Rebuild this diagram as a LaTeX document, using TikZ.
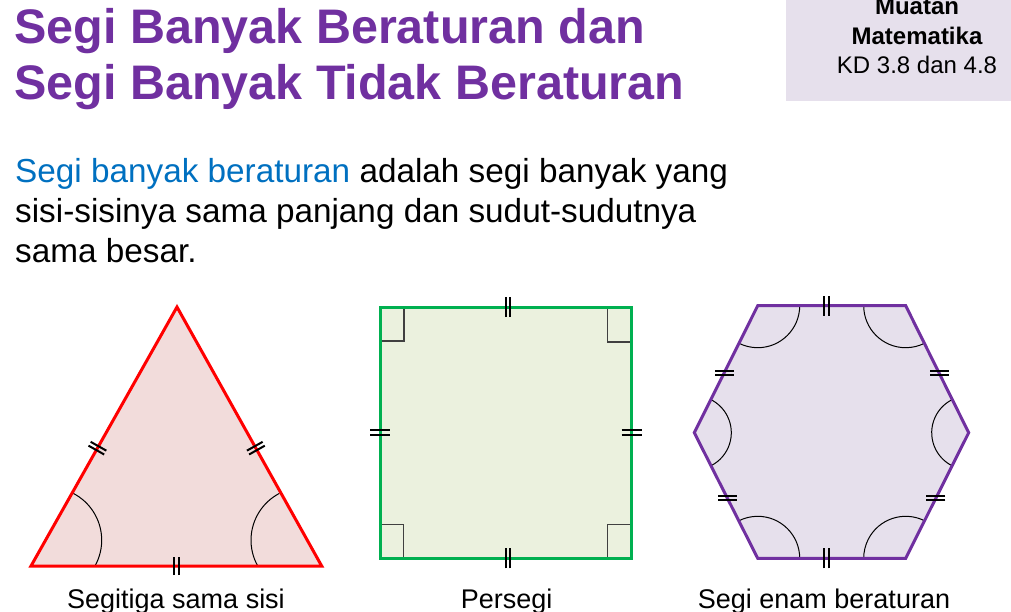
\documentclass[tikz,border=0pt]{standalone}
\usepackage{fontspec}
\setmainfont{Liberation Sans}
\usetikzlibrary{calc}
\definecolor{purpleT}{HTML}{7030A0}
\definecolor{blueT}{HTML}{0070C0}
\definecolor{redS}{HTML}{FF0000}
\definecolor{greenS}{HTML}{00B050}
\definecolor{triFill}{HTML}{F2DCDB}
\definecolor{sqFill}{HTML}{EBF1DE}
\definecolor{hexFill}{HTML}{E6E0EC}
\definecolor{markGray}{HTML}{404040}
\newcommand{\twobars}[1]{\rule{2pt}{#1pt}\kern2.4pt\rule{2pt}{#1pt}}
\tikzset{
  titletext/.style={anchor=base west, inner sep=0pt, text=purpleT, font=\fontsize{48.5}{50}\selectfont\bfseries},
  bodytext/.style={anchor=base west, inner sep=0pt, font=\fontsize{33.3}{36}\selectfont},
  boxtext/.style={anchor=base, inner sep=0pt, font=\fontsize{24}{26}\selectfont},
  captext/.style={anchor=base, inner sep=0pt, font=\fontsize{27}{29}\selectfont},
  outline/.style={line width=3pt, line join=miter},
  anglearc/.style={line width=1pt, black},
  rmark/.style={line width=1.2pt, markGray},
  barmark/.style={inner sep=0pt, outer sep=0pt, black},
}
\begin{document}
\begin{tikzpicture}[x=1pt, y=-1pt]
\useasboundingbox (0,0) rectangle (1011,612);
% top-right box
\fill[hexFill] (786,0) rectangle (1011,101);
\node[boxtext, font=\fontsize{24}{26}\selectfont\bfseries] (muatan) at (917,15) {Muatan};
\node[boxtext, font=\fontsize{24}{26}\selectfont\bfseries] (mat) at (917,45) {Matematika};
\node[boxtext] (kd) at (917,73.5) {KD 3.8 dan 4.8};
% title
\node[titletext] (title1) at (14,43.5) {Segi Banyak Beraturan dan};
\node[titletext] (title2) at (14,100) {Segi Banyak Tidak Beraturan};
% body
\node[bodytext] (body1) at (15,182.5) {{\color{blueT}Segi banyak beraturan} adalah segi banyak yang};
\node[bodytext] (body2) at (15,222.5) {sisi-sisinya sama panjang dan sudut-sudutnya};
\node[bodytext] (body3) at (15,262.5) {sama besar.};

% ---------- triangle ----------
\coordinate (t1) at (31,566);
\coordinate (t2) at (177,307);
\coordinate (t3) at (321.7,566);
\coordinate (ca) at (48.9,540.2);
\coordinate (cb) at (303.8,540.2);
\fill[triFill] (t1) -- (t2) -- (t3) -- cycle;
\draw[anglearc] ([shift={(62.5:52.8pt)}]ca) arc[start angle=62.5, end angle=-29.2, radius=52.8pt];
\draw[anglearc] ([shift={(117.5:52.8pt)}]cb) arc[start angle=117.5, end angle=209.2, radius=52.8pt];
\draw[outline, redS] (t1) -- (t2) -- (t3) -- cycle;
\path (t1) -- (t2) node[barmark, pos=0.455, sloped] (tk1) {\twobars{18}};
\path (t3) -- (t2) node[barmark, pos=0.455, sloped] (tk2) {\twobars{18}};
\path (t1) -- (t3) node[barmark, midway, sloped] (tk3) {\twobars{18}};
\node[captext] (cap1) at (176,608) {Segitiga sama sisi};

% ---------- square ----------
\coordinate (s1) at (380,307);
\coordinate (s2) at (631.7,307);
\coordinate (s3) at (631.7,558.3);
\coordinate (s4) at (380,558.3);
\fill[sqFill] (s1) -- (s2) -- (s3) -- (s4) -- cycle;
\draw[rmark] (s1) ++(0,34) -- ++(24,0) -- ++(0,-34);
\draw[rmark] (s2) ++(-24,0) -- ++(0,35) -- ++(24,0);
\draw[rmark] (s4) ++(0,-34) -- ++(23.5,0) -- ++(0,34);
\draw[rmark] (s3) ++(-24,0) -- ++(0,-34) -- ++(24,0);
\draw[outline, greenS] (s1) -- (s2) -- (s3) -- (s4) -- cycle;
\path (s1) -- (s2) node[barmark, pos=0.508, sloped] (sk1) {\twobars{20}};
\path (s4) -- (s3) node[barmark, pos=0.508, sloped] (sk2) {\twobars{20}};
\path (s1) -- (s4) node[barmark, midway, sloped] (sk3) {\twobars{20}};
\path (s2) -- (s3) node[barmark, midway, sloped] (sk4) {\twobars{20}};
\node[captext] (cap2) at (506.7,608) {Persegi};

% ---------- hexagon ----------
\coordinate (hTL) at (757.7,305.7);
\coordinate (hTR) at (905.7,305.7);
\coordinate (hR) at (968.7,432.7);
\coordinate (hBR) at (905.7,558.3);
\coordinate (hBL) at (757.7,558.3);
\coordinate (hL) at (694.3,432.7);
\fill[hexFill] (hTL) -- (hTR) -- (hR) -- (hBR) -- (hBL) -- (hL) -- cycle;
\draw[anglearc] ([shift={(0:42pt)}]hTL) arc[start angle=0, end angle=-116.5, radius=42pt];
\draw[anglearc] ([shift={(180:42pt)}]hTR) arc[start angle=180, end angle=296.4, radius=42pt];
\draw[anglearc] ([shift={(116.4:37pt)}]hR) arc[start angle=116.4, end angle=243.4, radius=37pt];
\draw[anglearc] ([shift={(63.4:42pt)}]hBR) arc[start angle=63.4, end angle=180, radius=42pt];
\draw[anglearc] ([shift={(0:42pt)}]hBL) arc[start angle=0, end angle=116.8, radius=42pt];
\draw[anglearc] ([shift={(-63.2:37pt)}]hL) arc[start angle=-63.2, end angle=63.5, radius=37pt];
\draw[outline, purpleT] (hTL) -- (hTR) -- (hR) -- (hBR) -- (hBL) -- (hL) -- cycle;
\path (hTL) -- (hTR) node[barmark, pos=0.466, sloped] (hk1) {\twobars{20}};
\path (hBL) -- (hBR) node[barmark, pos=0.466, sloped] (hk2) {\twobars{20}};
\path (hL) -- (hTL) node[barmark, pos=0.47, rotate=90] (hk3) {\twobars{19}};
\path (hL) -- (hBL) node[barmark, pos=0.52, rotate=90] (hk4) {\twobars{19}};
\path (hR) -- (hTR) node[barmark, pos=0.47, rotate=90] (hk5) {\twobars{19}};
\path (hR) -- (hBR) node[barmark, pos=0.52, rotate=90] (hk6) {\twobars{19}};
\node[captext] (cap3) at (824,608) {Segi enam beraturan};
\end{tikzpicture}
\end{document}
